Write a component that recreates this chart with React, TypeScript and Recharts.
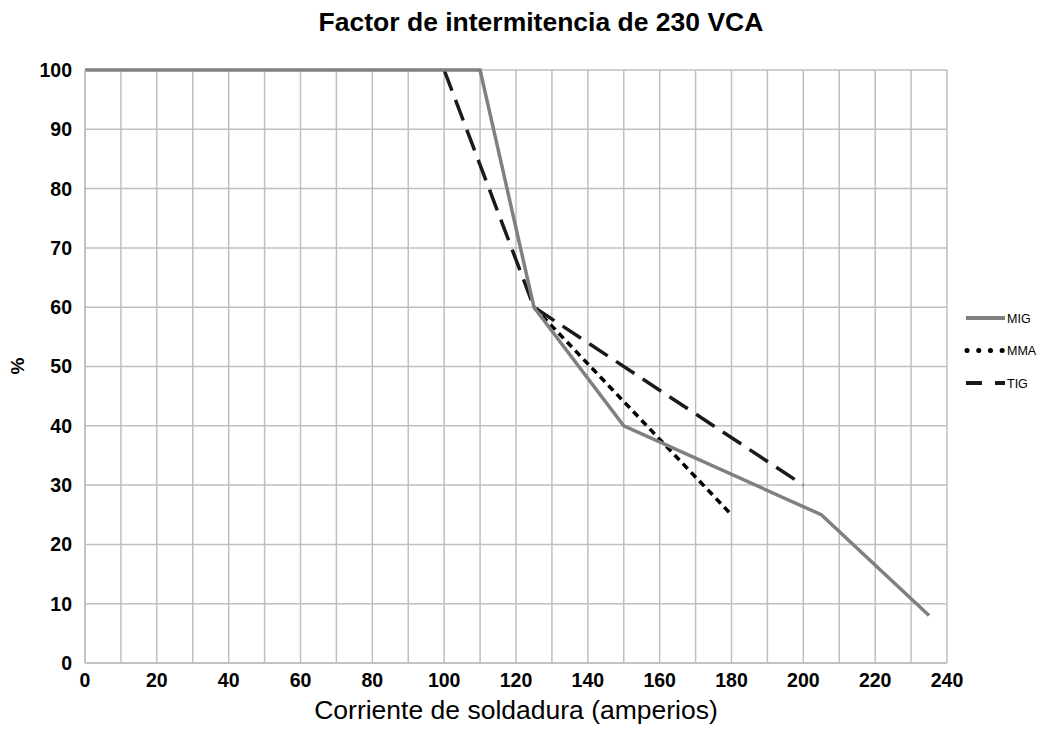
import React from "react";
import { LineChart, Line, XAxis, YAxis, CartesianGrid } from "recharts";

// valores
const MIG = [
  { x: 0, y: 100 },
  { x: 110, y: 100 },
  { x: 125, y: 60 },
  { x: 150, y: 40 },
  { x: 205, y: 25 },
  { x: 235, y: 8 },
];
const MMA = [
  { x: 125, y: 60 },
  { x: 180, y: 25 },
];
const TIG = [
  { x: 100, y: 100 },
  { x: 125, y: 60 },
  { x: 200, y: 30 },
];

const X_TICKS = [0, 10, 20, 30, 40, 50, 60, 70, 80, 90, 100, 110, 120, 130, 140, 150, 160, 170, 180, 190, 200, 210, 220, 230, 240];
const Y_TICKS = [0, 10, 20, 30, 40, 50, 60, 70, 80, 90, 100];

const FONT = "'Liberation Sans', Arial, sans-serif";
const GRID = "#bfbfbf";

// leyenda a la derecha
const SERIES = [
  { name: "MIG", color: "#808080", dash: undefined as string | undefined, cap: "butt" },
  { name: "MMA", color: "#000000", dash: "0.1 11.6", cap: "round" },
  { name: "TIG", color: "#1a1a1a", dash: "16 13", cap: "butt" },
];

function LegendBox() {
  return (
    <svg width={80} height={90} style={{ position: "absolute", left: 962, top: 308 }}>
      {SERIES.map((s, i) => (
        <g key={s.name} transform={`translate(0, ${i * 32.5 + 10})`}>
          <line
            x1={s.name === "MMA" ? 5 : 4}
            x2={43}
            y1={0}
            y2={0}
            stroke={s.color}
            strokeWidth={s.name === "MMA" ? 5 : 4}
            strokeDasharray={s.dash}
            strokeLinecap={s.cap as any}
          />
          <text x={45} y={4.5} fontSize={12.5} fontFamily={FONT} fill="#000">
            {s.name}
          </text>
        </g>
      ))}
    </svg>
  );
}

export default function App() {
  return (
    <div style={{ position: "absolute", left: 0, top: 0, width: 1043, height: 749, background: "#fff", fontFamily: FONT }}>
      <div
        style={{
          position: "absolute",
          left: 0,
          width: 1082,
          top: 7,
          textAlign: "center",
          fontSize: 26.5,
          fontWeight: "bold",
          color: "#000",
        }}
      >
        Factor de intermitencia de 230 VCA
      </div>
      <div
        style={{
          position: "absolute",
          left: 0,
          width: 1032,
          top: 695,
          textAlign: "center",
          fontSize: 26.5,
          color: "#000",
        }}
      >
        Corriente de soldadura (amperios)
      </div>
      <div
        style={{
          position: "absolute",
          left: 10,
          top: 355,
          fontSize: 19,
          fontWeight: "bold",
          transform: "rotate(-90deg)",
          transformOrigin: "center",
        }}
      >
        %
      </div>
      <LegendBox />
      <LineChart
        width={1043}
        height={749}
        margin={{ top: 70, right: 96, bottom: 56, left: 25 }}
        style={{ position: "absolute", left: 0, top: 0 }}
      >
        <CartesianGrid stroke={GRID} strokeWidth={1.5} />
        <XAxis
          type="number"
          dataKey="x"
          domain={[0, 240]}
          ticks={X_TICKS}
          interval={0}
          tickFormatter={(v: number) => (v % 20 === 0 ? String(v) : "")}
          height={30}
          axisLine={{ stroke: GRID, strokeWidth: 1.5 }}
          tickLine={false}
          tickMargin={4}
          tick={{ fontSize: 19.5, fontWeight: "bold", fill: "#000", fontFamily: FONT }}
        />
        <YAxis
          type="number"
          dataKey="y"
          domain={[0, 100]}
          ticks={Y_TICKS}
          interval={0}
          width={60}
          axisLine={{ stroke: GRID, strokeWidth: 1.5 }}
          tickLine={false}
          tickMargin={7}
          tick={{ fontSize: 19.5, fontWeight: "bold", fill: "#000", fontFamily: FONT }}
        />
        <Line
          data={TIG}
          dataKey="y"
          name="TIG"
          stroke="#1a1a1a"
          strokeWidth={3.5}
          strokeDasharray="22 10"
          dot={false}
          isAnimationActive={false}
        />
        <Line
          data={MMA}
          dataKey="y"
          name="MMA"
          stroke="#000"
          strokeWidth={3.5}
          strokeDasharray="7 5"
          dot={false}
          isAnimationActive={false}
        />
        <Line
          data={MIG}
          dataKey="y"
          name="MIG"
          stroke="#808080"
          strokeWidth={3.5}
          dot={false}
          isAnimationActive={false}
        />
      </LineChart>
    </div>
  );
}
